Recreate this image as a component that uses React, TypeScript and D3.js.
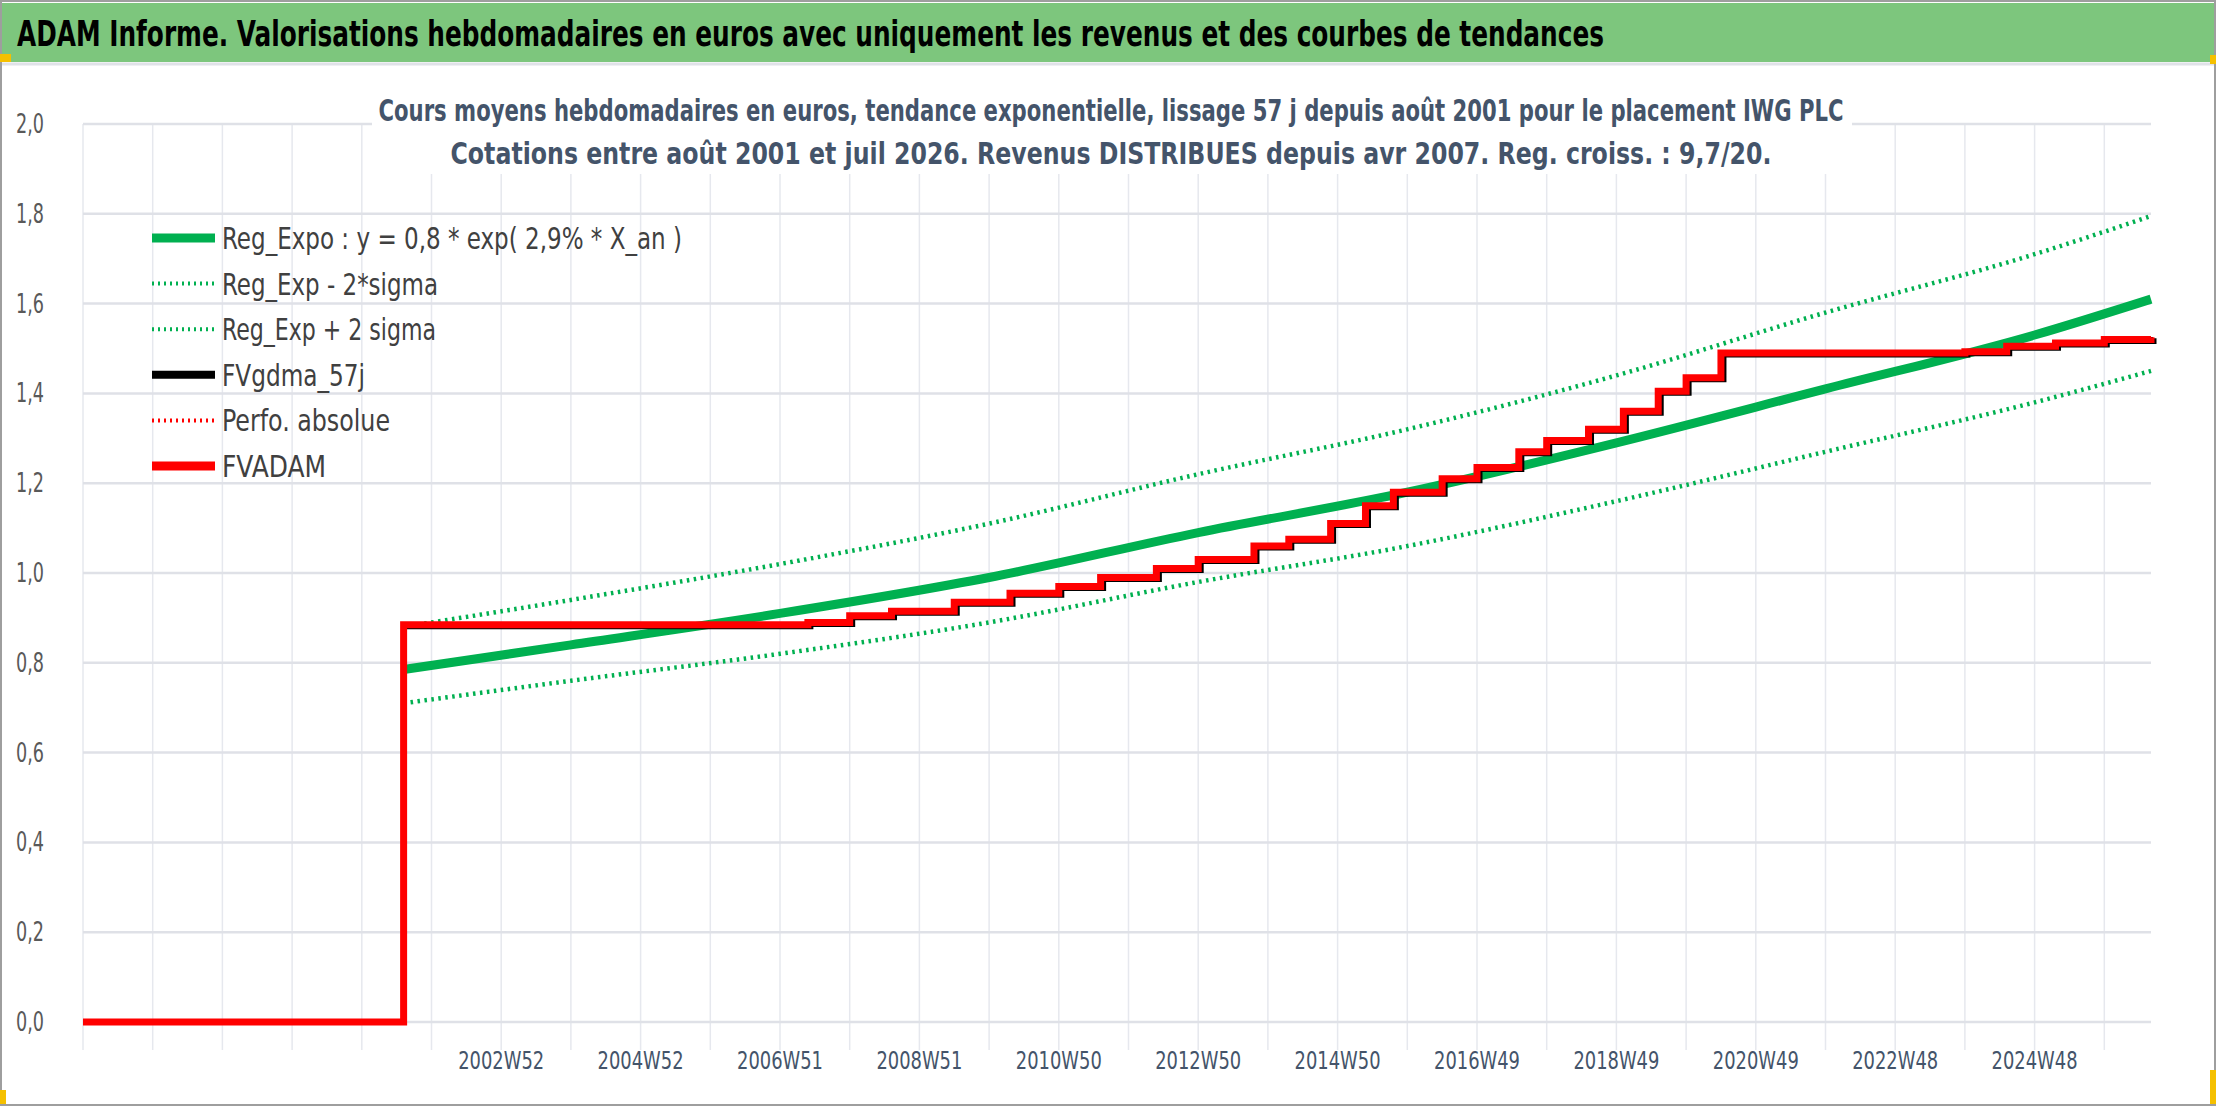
import * as d3 from "d3";

const W = 2216;
const H = 1106;

// x axis: decimal years
const xStart = 1997.0;
const xEnd = 2026.67;
const tickYears = [2003, 2005, 2007, 2009, 2011, 2013, 2015, 2017, 2019, 2021, 2023, 2025];
const tickLabels = ["2002W52", "2004W52", "2006W51", "2008W51", "2010W50", "2012W50", "2014W50", "2016W49", "2018W49", "2020W49", "2022W48", "2024W48"];
const yTicks = [0, 0.2, 0.4, 0.6, 0.8, 1.0, 1.2, 1.4, 1.6, 1.8, 2.0];

// trend curves
const trendYears = [2001.6, 2004, 2007, 2010, 2013, 2016, 2019, 2022, 2025, 2026.67];
const regExpo = [0.785, 0.84, 0.91, 0.99, 1.09, 1.18, 1.29, 1.41, 1.53, 1.61];
const regUpper = [0.88, 0.94, 1.02, 1.11, 1.22, 1.32, 1.44, 1.58, 1.71, 1.795];
const regLower = [0.71, 0.76, 0.82, 0.89, 0.98, 1.06, 1.16, 1.27, 1.38, 1.45];

// FVADAM step series
const adamYears = [1997.0, 2001.6, 2007.4, 2008.0, 2008.6, 2009.5, 2010.3, 2011.0, 2011.6, 2012.4, 2013.0, 2013.8, 2014.3, 2014.9, 2015.4, 2015.8, 2016.5, 2017.0, 2017.6, 2018.0, 2018.6, 2019.1, 2019.6, 2020.0, 2020.5, 2024.0, 2024.6, 2025.3, 2026.0, 2026.67];
const adamValues = [0.0, 0.885, 0.89, 0.905, 0.915, 0.935, 0.955, 0.97, 0.99, 1.01, 1.03, 1.06, 1.075, 1.11, 1.15, 1.18, 1.21, 1.235, 1.27, 1.295, 1.32, 1.36, 1.405, 1.435, 1.49, 1.493, 1.505, 1.512, 1.52, 1.525];

const legendItems = [
  { label: "Reg_Expo : y = 0,8 * exp( 2,9% *  X_an )", color: "#00b050", width: 9, dash: "", len: 460 },
  { label: "Reg_Exp - 2*sigma", color: "#00b050", width: 4, dash: "2,4", len: 216 },
  { label: "Reg_Exp + 2 sigma", color: "#00b050", width: 4, dash: "2,4", len: 214 },
  { label: "FVgdma_57j", color: "#000000", width: 8, dash: "", len: 143 },
  { label: "Perfo. absolue", color: "#ff0000", width: 4, dash: "2,4", len: 168 },
  { label: "FVADAM", color: "#ff0000", width: 9, dash: "", len: 104 },
];

const left = 83;
const right = 2151;
const top = 124;
const bottom = 1022;

export default function App() {
  const x = d3.scaleLinear().domain([xStart, xEnd]).range([left, right]);
  const y = d3.scaleLinear().domain([0, 2]).range([bottom, top]);

  const smooth = d3
    .line<[number, number]>()
    .x((d) => x(d[0]))
    .y((d) => y(d[1]))
    .curve(d3.curveMonotoneX);
  const step = d3
    .line<[number, number]>()
    .x((d) => x(d[0]))
    .y((d) => y(d[1]))
    .curve(d3.curveStepAfter);

  const zip = (a: number[], b: number[]) => a.map((v, i) => [v, b[i]] as [number, number]);
  const adam = zip(adamYears, adamValues);
  const years = d3.range(Math.ceil(xStart), Math.floor(xEnd) + 1);

  const font = "'Liberation Sans Narrow', 'DejaVu Sans Condensed', sans-serif";

  return (
    <svg width={W} height={H} style={{ position: "absolute", left: 0, top: 0 }} fontFamily={font}>
      <rect x={1} y={1} width={W - 2} height={H - 2} fill="#fff" stroke="#9e9e9e" strokeWidth={2} />
      <rect x={2} y={3} width={W - 4} height={59} fill="#7dc67d" />
      <line x1={2} x2={W - 2} y1={64} y2={64} stroke="#e0e2e8" strokeWidth={3} />
      <rect x={0} y={54} width={11} height={8} fill="#f5c000" />
      <rect x={W - 6} y={55} width={6} height={9} fill="#f5c000" />
      <rect x={0} y={1090} width={6} height={14} fill="#f5c000" />
      <rect x={W - 6} y={1070} width={6} height={34} fill="#f5c000" />
      <text x={17} y={46} fontSize={35} fontWeight="bold" fill="#000" textLength={1587} lengthAdjust="spacingAndGlyphs">
        ADAM Informe. Valorisations hebdomadaires en euros avec uniquement les revenus et des courbes de tendances
      </text>

      {years.map((yr) => (
        <line key={yr} x1={x(yr)} x2={x(yr)} y1={top} y2={bottom + 28} stroke="#e6e8ee" strokeWidth={1.5} />
      ))}
      {yTicks.map((t) => (
        <g key={t}>
          <line x1={left} x2={right} y1={y(t)} y2={y(t)} stroke="#dfe1e7" strokeWidth={2.5} />
          <text x={44} y={y(t) + 9} fontSize={26} fill="#595959" textAnchor="end" textLength={28} lengthAdjust="spacingAndGlyphs">
            {t.toFixed(1).replace(".", ",")}
          </text>
        </g>
      ))}
      {tickYears.map((t, i) => (
        <text key={t} x={x(t)} y={1069} fontSize={25} fill="#44546a" textAnchor="middle" textLength={86} lengthAdjust="spacingAndGlyphs">
          {tickLabels[i]}
        </text>
      ))}

      <rect x={372} y={84} width={1480} height={90} fill="#fff" />
      <text x={1111} y={121} fontSize={30} fontWeight="bold" fill="#44546a" textAnchor="middle" textLength={1465} lengthAdjust="spacingAndGlyphs">
        Cours moyens hebdomadaires en euros, tendance exponentielle, lissage 57 j depuis août 2001 pour le placement IWG PLC
      </text>
      <text x={1111} y={164} fontSize={30} fontWeight="bold" fill="#44546a" textAnchor="middle" textLength={1321} lengthAdjust="spacingAndGlyphs">
        Cotations entre août 2001 et juil 2026. Revenus DISTRIBUES depuis avr 2007. Reg. croiss. : 9,7/20.
      </text>

      <path d={smooth(zip(trendYears, regLower)) ?? ""} fill="none" stroke="#00b050" strokeWidth={4.5} strokeDasharray="2.5,4.5" />
      <path d={smooth(zip(trendYears, regUpper)) ?? ""} fill="none" stroke="#00b050" strokeWidth={4.5} strokeDasharray="2.5,4.5" />
      <path d={smooth(zip(trendYears, regExpo)) ?? ""} fill="none" stroke="#00b050" strokeWidth={9} />
      <path d={step(adam.slice(1)) ?? ""} fill="none" stroke="#000" strokeWidth={7} transform="translate(2,1)" />
      <path d={step(adam) ?? ""} fill="none" stroke="#ff0000" strokeWidth={7} />

      {legendItems.map((it, i) => {
        const ly = 238 + i * 45.6;
        return (
          <g key={it.label}>
            <line x1={152} x2={215} y1={ly} y2={ly} stroke={it.color} strokeWidth={it.width} strokeDasharray={it.dash || undefined} />
            <text x={222} y={ly + 11} fontSize={31} fill="#404040" textLength={it.len} lengthAdjust="spacingAndGlyphs">
              {it.label}
            </text>
          </g>
        );
      })}
    </svg>
  );
}
